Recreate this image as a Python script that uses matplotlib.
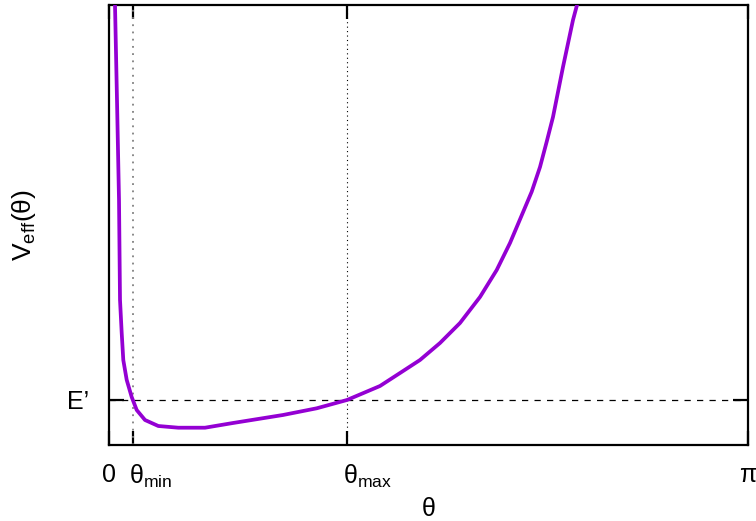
import numpy as np
import matplotlib.pyplot as plt
from matplotlib.transforms import ScaledTranslation

plt.rcParams['font.family'] = ['Liberation Sans', 'DejaVu Sans']
plt.rcParams['mathtext.fontset'] = 'custom'
plt.rcParams['mathtext.rm'] = 'Liberation Sans'
plt.rcParams['mathtext.it'] = 'Liberation Sans'

# effective potential (arbitrary units, top of frame = 10)
theta = [0.0295, 0.0393, 0.0492, 0.0541, 0.0624, 0.0703, 0.0870, 0.1116,
         0.1362, 0.1770, 0.2424, 0.3407, 0.4720, 0.6096, 0.8554, 1.0211,
         1.1701, 1.3323, 1.4307, 1.5290, 1.6273, 1.7257, 1.8240, 1.9061,
         1.9715, 2.0256, 2.0782, 2.1190, 2.1519, 2.1829, 2.2320, 2.2812,
         2.3009]
v_eff = [10.0, 7.84, 5.57, 3.30, 2.55, 1.93, 1.48, 1.09,
         0.795, 0.568, 0.432, 0.393, 0.393, 0.50, 0.682, 0.834,
         1.023, 1.341, 1.636, 1.932, 2.318, 2.773, 3.364, 3.977,
         4.591, 5.182, 5.757, 6.318, 6.893, 7.455, 8.591, 9.659,
         10.0]

e_prime = 1.023
theta_min = 0.118
theta_max = 1.170
x_ticks = [0, theta_min, theta_max, np.pi]
x_labels = ['0', r'$\mathrm{\theta}_{\mathrm{min}}$',
            r'$\mathrm{\theta}_{\mathrm{max}}$', r'$\mathrm{\pi}$']

fig = plt.figure(figsize=(7.56, 5.21), dpi=100)
ax = fig.add_axes([109 / 756, 76 / 521, 639 / 756, 440 / 521])

ax.plot(theta, v_eff, color='#9400d3', lw=2.7, solid_joinstyle='round',
        zorder=3)
ax.axhline(e_prime, color='black', lw=0.9, ls=(0, (5, 5)), zorder=2)
ax.axvline(theta_min, color='#808080', lw=1.3, ls=(0, (1, 3)), zorder=2)
ax.axvline(theta_max, color='black', lw=0.8, ls=(0, (1, 3)), zorder=2)

ax.set_xlim(0, np.pi)
ax.set_ylim(0, 10)
ax.set_xticks(x_ticks)
ax.set_xticklabels(x_labels, fontsize=18)
ax.set_yticks([e_prime])
ax.set_yticklabels(["E’"], fontsize=18)
ax.tick_params(axis='x', direction='in', length=10, width=1.6, pad=13,
               top=True)
ax.tick_params(axis='y', direction='in', length=11, width=1.6, pad=14,
               right=True)
shift = ScaledTranslation(-4 / 100, 0, fig.dpi_scale_trans)
for lab in ax.get_xticklabels()[1:3]:
    lab.set_horizontalalignment('left')
    lab.set_transform(lab.get_transform() + shift)
for s in ax.spines.values():
    s.set_linewidth(1.6)

ax.set_xlabel('θ', fontsize=18)
ax.xaxis.set_label_coords(0.5, -0.118)
ax.set_ylabel(r'V$_{\mathrm{eff}}$($\mathrm{\theta}$)', fontsize=19)
ax.yaxis.set_label_coords(-0.133, 0.5)
ax.yaxis.label.set_verticalalignment('center')

fig.savefig('out.png', dpi=100)
